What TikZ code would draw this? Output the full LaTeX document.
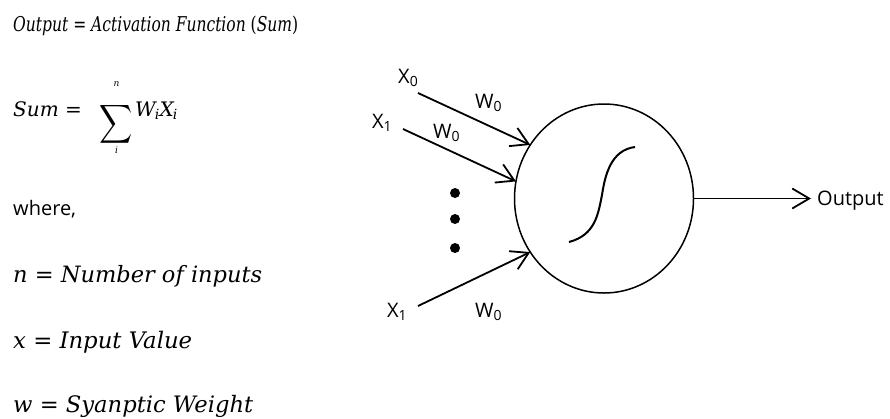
\documentclass[tikz,border=0pt]{standalone}
\usepackage{fontspec}
\usepackage{graphicx}
\newfontfamily\lblfont{Open Sans}
\newfontfamily\eqfont{DejaVu Serif}
\usetikzlibrary{arrows.meta,shapes.geometric}
\begin{document}
\begin{tikzpicture}[x=1pt,y=-1pt,
  eq/.style={anchor=base west, inner sep=0pt, font=\eqfont\itshape\fontsize{20}{24}\selectfont},
  lbl/.style={anchor=base west, inner sep=0pt, font=\lblfont\fontsize{20}{24}\selectfont},
  lim/.style={anchor=base, inner sep=0pt, font=\eqfont\itshape\fontsize{9}{10}\selectfont},
  inarrow/.style={line width=1.8pt, -{Straight Barb[length=17pt,width=20pt,line width=1.8pt]}},
  neuronstyle/.style={draw, ellipse, minimum width=179pt, minimum height=189pt, line width=1.5pt, inner sep=0pt, outer sep=0pt},
  dotstyle/.style={fill=black}
]
\useasboundingbox[fill=white] (0,0) rectangle (890,418);

% left text block
\node[eq] (l1) at (13,31) {\resizebox{285pt}{15.5pt}{Output {\upshape=} Activation Function {\upshape(}Sum{\upshape)}}};
\node[eq] (l2a) at (13,116) {Sum {\upshape=}};
\node[inner sep=0pt] (sig) at (116.5,124) {\scalebox{2.3}[2.7]{$\displaystyle\sum$}};
\node[lim] (ln) at (116.5,86) {n};
\node[lim] (li) at (116.5,153) {i};
\node[eq] (l2b) at (135,116) {W\textsubscript{\kern-1pt i}X\textsubscript{\kern-1pt i}};
\node[lbl] (l3) at (13,215) {where,};
\node[eq] (l4) at (13,282) {\resizebox{249pt}{!}{n {\upshape=} Number of inputs}};
\node[eq] (l5) at (13,348) {\resizebox{179pt}{!}{x {\upshape=} Input Value}};
\node[eq] (l6) at (13,412) {\resizebox{240pt}{!}{w {\upshape=} Syanptic Weight}};

% neuron
\node[neuronstyle] (neuron) at (604,198.5) {};
\draw[line width=2pt] (569,242) .. controls (595,235) and (598,215) .. (602,195)
      .. controls (605,175) and (611,150) .. (635,147);

% inputs
\coordinate (s0) at (418,93);
\coordinate (s1) at (403,129);
\coordinate (s2) at (418,306);
\draw[inarrow] (s0) -- (neuron.144);
\draw[inarrow] (s1) -- (neuron.169.5);
\draw[inarrow] (s2) -- (neuron.216);

\node[lbl] (x0) at (398,83) {X\textsubscript{0}};
\node[lbl] (w0a) at (475,108) {W\textsubscript{0}};
\node[lbl] (x1a) at (372,128) {X\textsubscript{1}};
\node[lbl] (w0b) at (433,138) {W\textsubscript{0}};
\node[lbl] (x1b) at (387,317) {X\textsubscript{1}};
\node[lbl] (w0c) at (475,317) {W\textsubscript{0}};

% dots
\fill[dotstyle] (455,193) circle (5pt);
\fill[dotstyle] (455,219) circle (5pt);
\fill[dotstyle] (455,248) circle (5pt);

% output
\coordinate (oend) at (811,198.5);
\draw[inarrow] (neuron.east) -- (oend);
\node[lbl] (out) at (817,205) {Output};
\end{tikzpicture}
\end{document}
